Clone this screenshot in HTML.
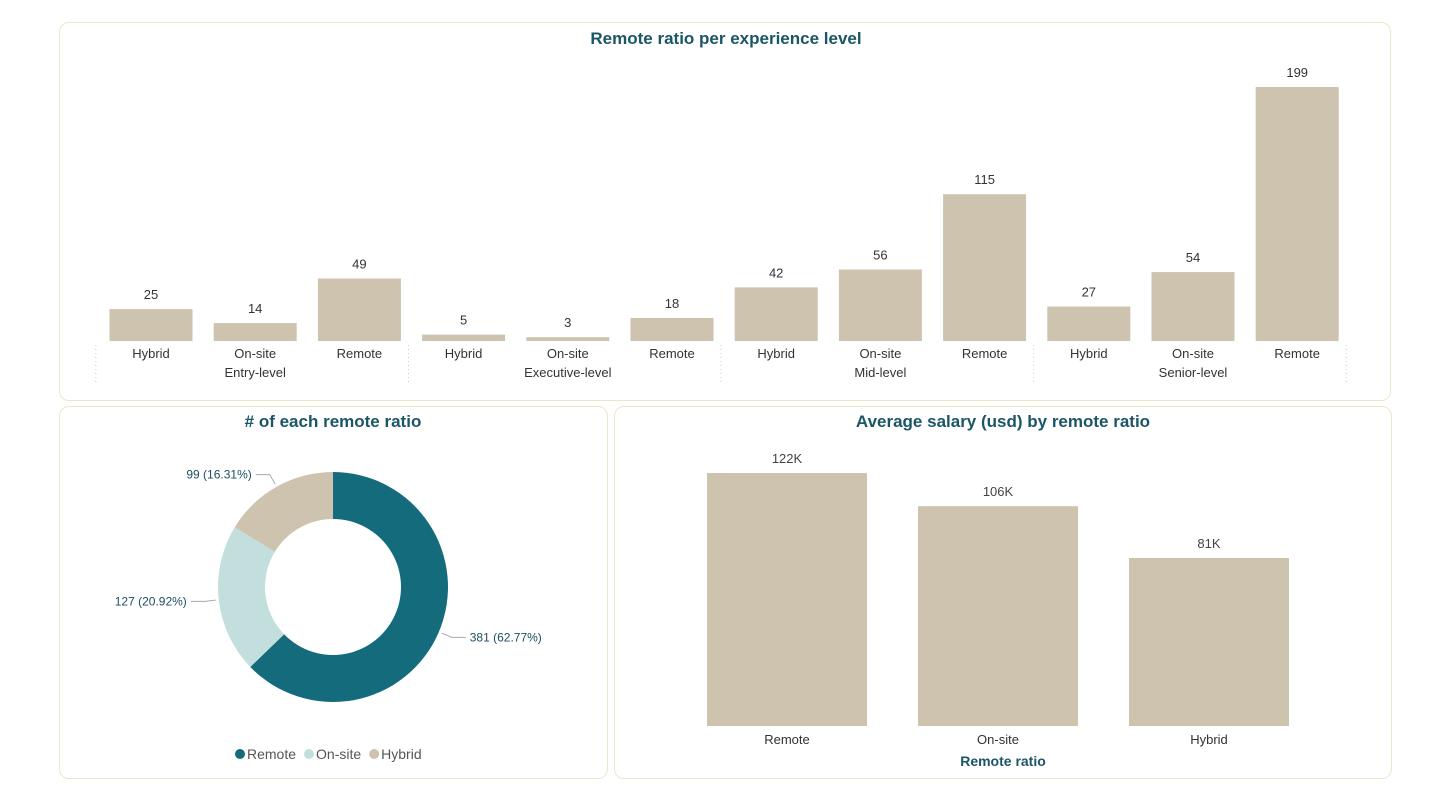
<!DOCTYPE html>
<html><head><meta charset="utf-8"><style>
body{margin:0;width:1441px;height:797px;background:#fff;font-family:"Liberation Sans",sans-serif;overflow:hidden}
.panel{position:absolute;border:1.5px solid #ece6c8;border-radius:10px;background:#fff}
</style></head><body>
<div class="panel" style="left:59px;top:22px;width:1330px;height:377px"></div>
<div class="panel" style="left:59px;top:406px;width:547px;height:371px"></div>
<div class="panel" style="left:614px;top:406px;width:776px;height:371px"></div>
<svg id="svg" width="1441" height="797" style="position:absolute;left:0;top:0" font-family="Liberation Sans, sans-serif">
<text x="726" y="44" text-anchor="middle" font-size="17" font-weight="bold" fill="#1b5666">Remote ratio per experience level</text>
<text x="333" y="427" text-anchor="middle" font-size="17" font-weight="bold" fill="#1b5666"># of each remote ratio</text>
<text x="1003" y="427" text-anchor="middle" font-size="17" font-weight="bold" fill="#1b5666">Average salary (usd) by remote ratio</text>
<text x="1003" y="766" text-anchor="middle" font-size="14" font-weight="bold" fill="#1b5666">Remote ratio</text>
</svg>
<script>
const groups=["Entry-level","Executive-level","Mid-level","Senior-level"];
const subcats=["Hybrid","On-site","Remote"];
const counts=[25,14,49,5,3,18,42,56,115,27,54,199];
const donutLabels=["Remote","On-site","Hybrid"];
const donutValues=[381,127,99];
const salaryCats=["Remote","On-site","Hybrid"];
const salaryValues=[122,106,81];
const NS="http://www.w3.org/2000/svg",svg=document.getElementById('svg');
function mk(t,a,txt){const e=document.createElementNS(NS,t);for(const k in a)e.setAttribute(k,a[k]);if(txt!=null)e.textContent=txt;svg.appendChild(e);return e;}
// top chart
const base1=341,sc1=254/199,x0=151,step=104.2,bw=83;
const yTop=v=>base1-v*sc1;
counts.forEach((v,i)=>{const cx=x0+i*step;
 const r=mk('rect',{x:cx-bw/2,y:yTop(v),width:bw,height:v*sc1,fill:'#cdc3ae'});
 
 
 const t=mk('text',{x:cx,y:yTop(v)-10,'text-anchor':'middle','font-size':13,fill:'#333'},v);
 
 
 const l=mk('text',{x:cx,y:358,'text-anchor':'middle','font-size':13,fill:'#333'},subcats[i%3]);
 
 
});
groups.forEach((g,k)=>{const cx=x0+(k*3+1)*step;
 const t=mk('text',{x:cx,y:377,'text-anchor':'middle','font-size':13,fill:'#333'},g);
 
 
});
for(let k=0;k<=4;k++){const x=x0-step/2-3+k*3*step;
 const ln=mk('line',{x1:x,x2:x,y1:345,y2:383,stroke:'#ccc','stroke-dasharray':'1,3'});
 
 
}
// donut
const cx=333,cy=587,R=115,r0=68,cols=['#136b7b','#c2dfdd','#cdc3ae'];
const tot=donutValues.reduce((a,b)=>a+b,0);let a0=0;
const pt=(a,r)=>[cx+r*Math.sin(a),cy-r*Math.cos(a)];
donutValues.forEach((v,i)=>{const a1=a0+v/tot*2*Math.PI,lg=(a1-a0)>Math.PI?1:0;
 const [x1,y1]=pt(a0,R),[x2,y2]=pt(a1,R),[x3,y3]=pt(a1,r0),[x4,y4]=pt(a0,r0);
 const p=mk('path',{d:`M${x1},${y1}A${R},${R} 0 ${lg} 1 ${x2},${y2}L${x3},${y3}A${r0},${r0} 0 ${lg} 0 ${x4},${y4}Z`,fill:cols[i]});
 
 
 const am=(a0+a1)/2,[ex,ey]=pt(am,R+3),[fx,fy]=pt(am,R+14),right=Math.sin(am)>0;
 const hx=right?fx+14:fx-14;
 mk('polyline',{points:`${ex},${ey} ${fx},${fy} ${hx},${fy}`,fill:'none',stroke:'#aaa'});
 const t=mk('text',{x:right?hx+4:hx-4,y:fy+4,'text-anchor':right?'start':'end','font-size':12,fill:'#1b4f5e'},v+' ('+(v/tot*100).toFixed(2)+'%)');
 
 
 a0=a1;
});
let lx=235;
donutLabels.forEach((lab,i)=>{
 mk('circle',{cx:lx+5,cy:754,r:5,fill:cols[i]});
 const t=mk('text',{x:lx+12,y:759,'font-size':14,fill:'#555'},lab);
 
 
 lx+=12+t.getComputedTextLength()+8;
});
// salary
const base2=726,sc2=253/122,sx0=787,sstep=211,sbw=160;
salaryValues.forEach((v,i)=>{const c=sx0+i*sstep,y=base2-v*sc2;
 const r=mk('rect',{x:c-sbw/2,y:y,width:sbw,height:v*sc2,fill:'#cdc3ae'});
 
 
 const t=mk('text',{x:c,y:y-10,'text-anchor':'middle','font-size':13,fill:'#444'},v+'K');
 
 
 const l=mk('text',{x:c,y:744,'text-anchor':'middle','font-size':13,fill:'#333'},salaryCats[i]);
 
 
});
</script>
</body></html>
